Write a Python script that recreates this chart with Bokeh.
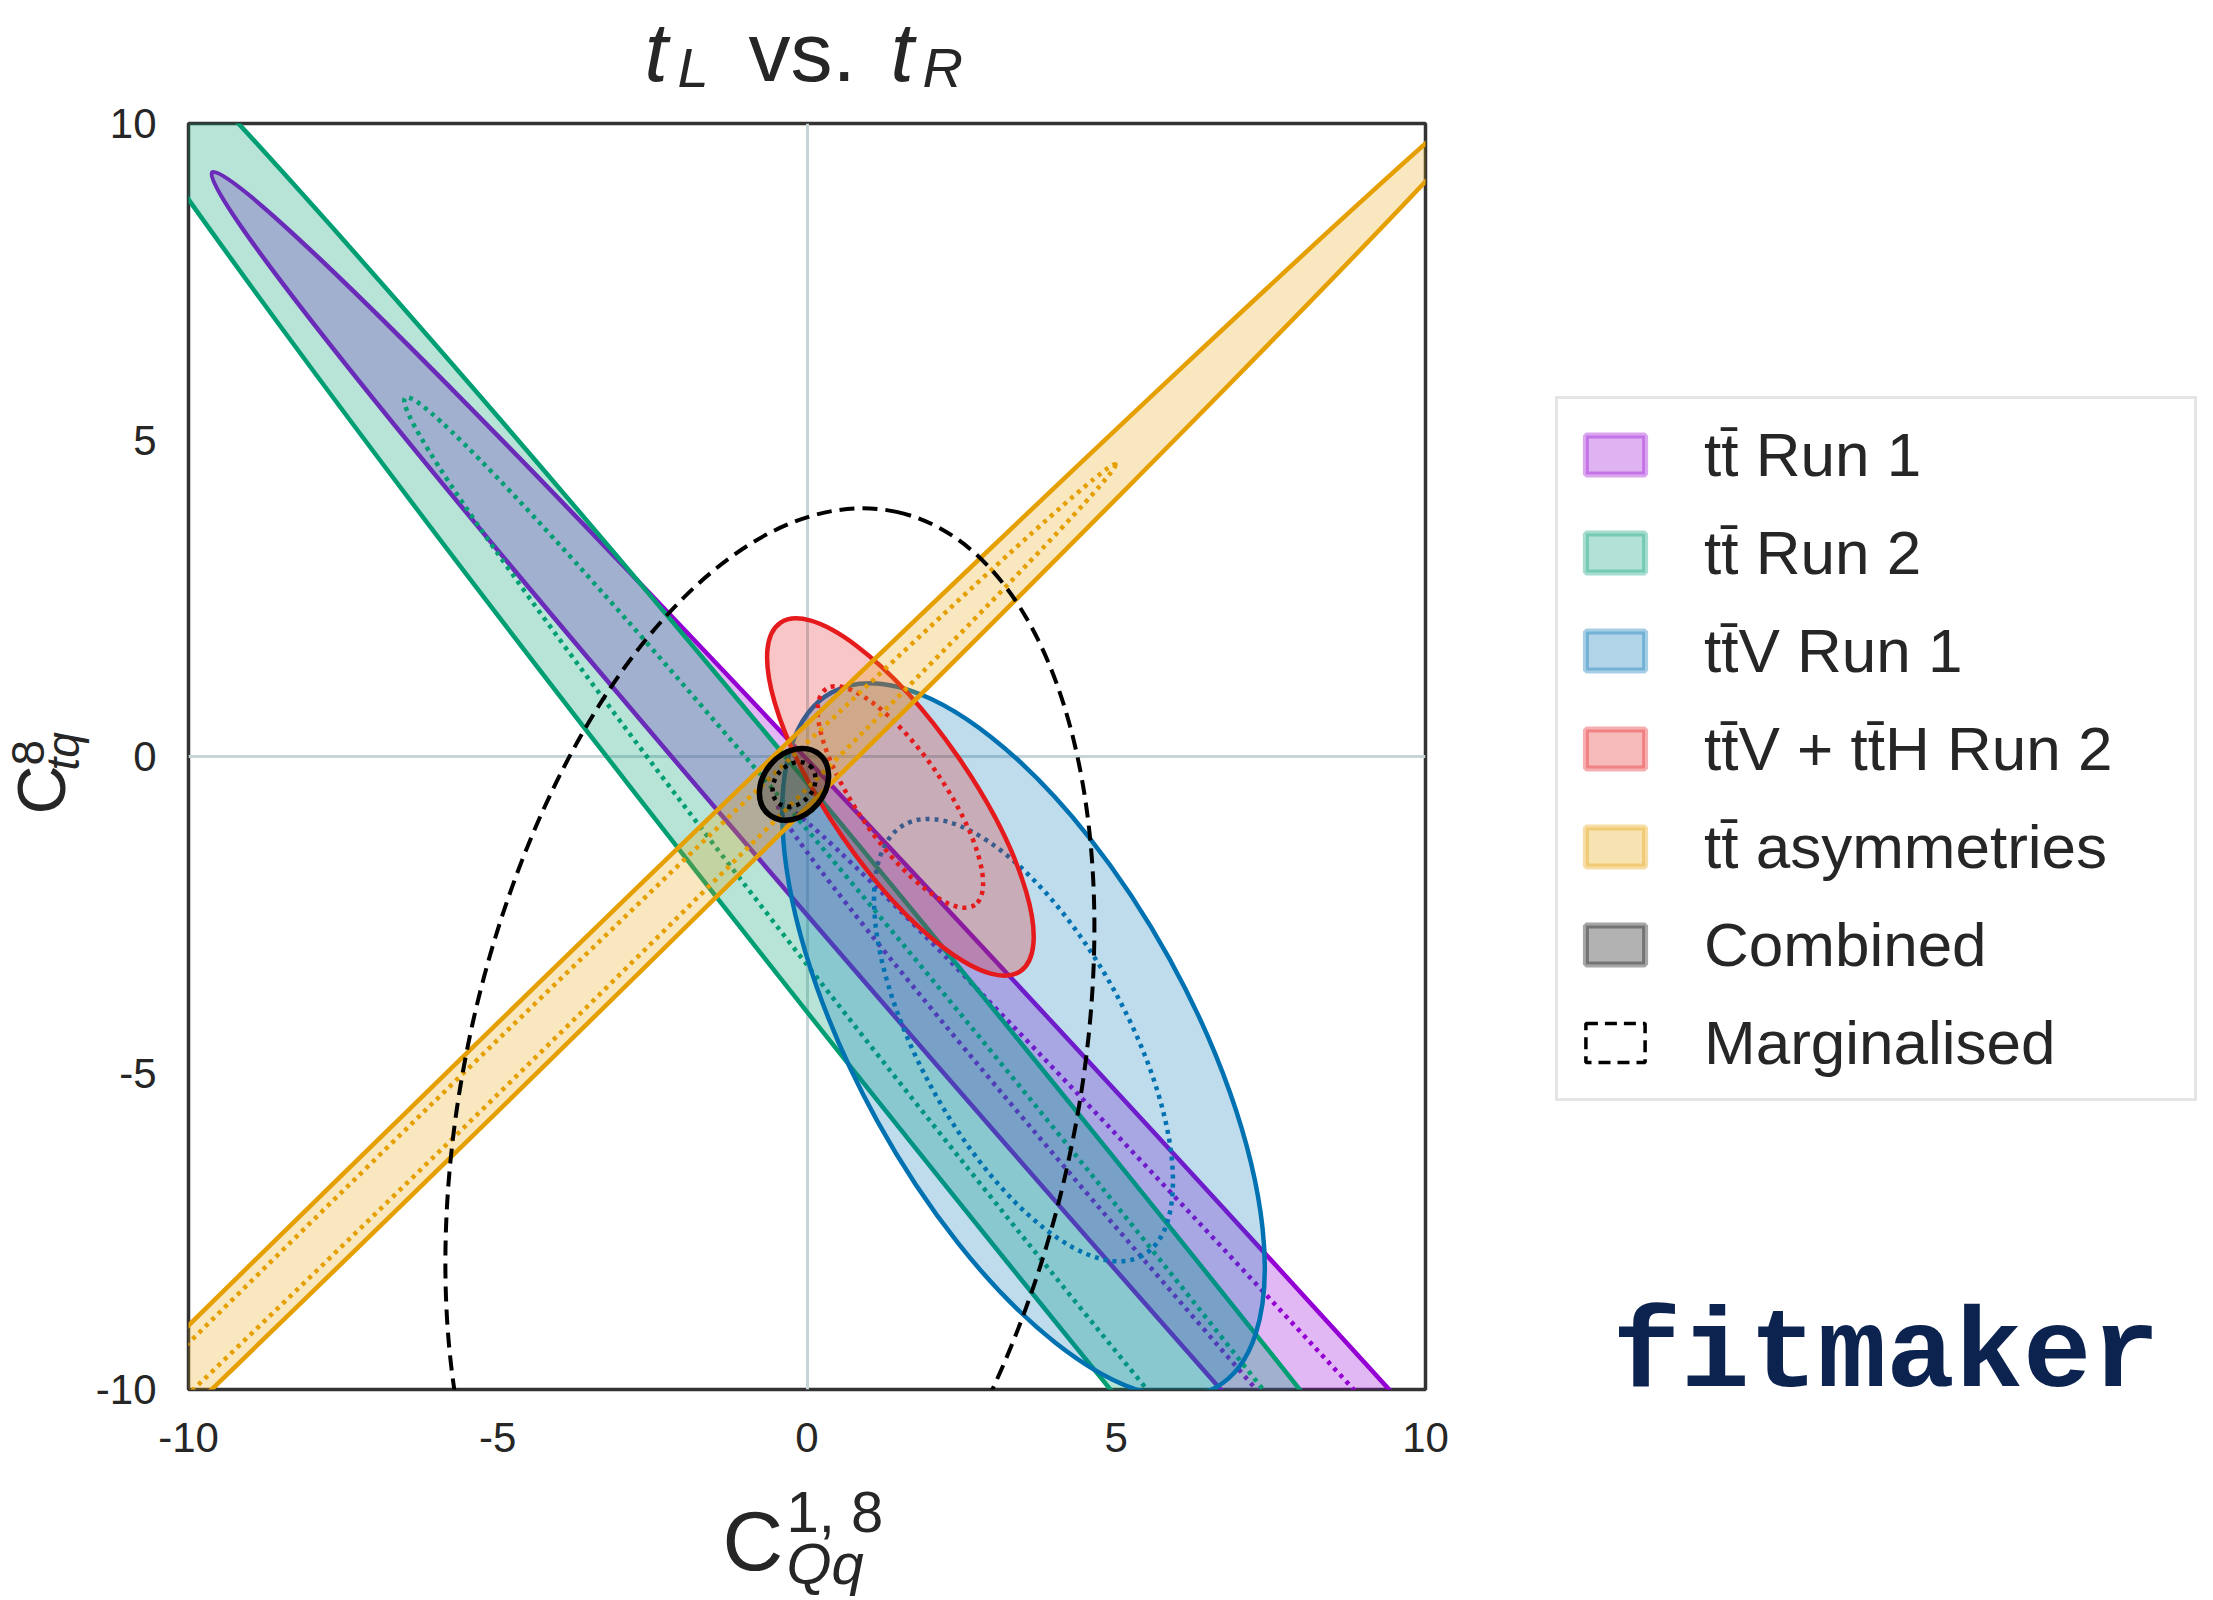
import math
from bokeh.plotting import figure
from bokeh.layouts import column, row
from bokeh.models import Label, Legend, LegendItem, FixedTicker, Range1d, ColumnDataSource
from bokeh.embed import file_html
from bokeh.resources import INLINE

# ---------------- data ----------------
series = ["tt\u0304 Run 1", "tt\u0304 Run 2", "tt\u0304V Run 1",
          "tt\u0304V + tt\u0304H Run 2", "tt\u0304 asymmetries", "Combined"]
colors = ["#9400d3", "#009e73", "#0072b2", "#e41a1c", "#e69f00", "#000000"]

# 95% contours (ellipses): centre, full width / height, rotation (deg)
center_x = [14.46, 4.18, 3.50, 1.51, -6.00, -0.21]
center_y = [-16.99, -7.26, -4.48, -0.64, -5.86, -0.44]
width95 = [72.1, 53.9, 12.84, 6.84, 49.5, 1.27]
height95 = [2.05, 2.35, 5.28, 2.22, 1.00, 0.97]
angle_deg = [-48.1, -51.1, -61.1, -55.4, 44.3, 49.4]

# 68% contours (dotted)
width68 = [44.7, 34.0, 7.96, 4.24, 30.7, 0.79]
height68 = [1.27, 1.46, 3.27, 1.38, 0.62, 0.60]

# marginalised contour (dashed)
marg_x = [-0.60]
marg_y = [-5.35]
marg_w = [19.3]
marg_h = [9.66]
marg_angle = [77.75]
marg_label = "Marginalised"

xticks = [-10, -5, 0, 5, 10]
yticks = [-10, -5, 0, 5, 10]
tick_labels = ["-10", "-5", "0", "5", "10"]

fill_alpha = [0.28, 0.28, 0.25, 0.25, 0.25, 0.25]

TXT = "#262626"
NAN = float("nan")

# ---------------- main plot ----------------
p = figure(frame_width=1237, frame_height=1266,
           x_range=Range1d(-10, 10), y_range=Range1d(-10, 10),
           output_backend="svg", toolbar_location=None,
           min_border_left=98, min_border_top=25,
           min_border_bottom=80, min_border_right=30,
           background_fill_color="white", border_fill_color="white",
           outline_line_color="#333333", outline_line_width=3.5)

for ax, ticks, so in ((p.xaxis, xticks, 33), (p.yaxis, yticks, 32)):
    ax.ticker = FixedTicker(ticks=ticks)
    ax.major_label_overrides = {t: s for t, s in zip(ticks, tick_labels)}
    ax.major_tick_line_color = None
    ax.minor_tick_line_color = None
    ax.axis_line_color = None
    ax.major_tick_out = 0
    ax.major_tick_in = 0
    ax.major_label_text_font = "Liberation Sans"
    ax.major_label_text_font_size = "42px"
    ax.major_label_text_color = TXT
    ax.major_label_standoff = so

p.xgrid.ticker = FixedTicker(ticks=[0])
p.ygrid.ticker = FixedTicker(ticks=[0])
p.grid.grid_line_color = "#c6d5d7"
p.grid.grid_line_width = 3

for i in range(len(series)):
    src = ColumnDataSource(dict(x=[center_x[i]], y=[center_y[i]],
                                w=[width95[i]], h=[height95[i]],
                                w68=[width68[i]], h68=[height68[i]],
                                a=[angle_deg[i]]))
    p.ellipse(x="x", y="y", width="w", height="h", angle="a", angle_units="deg",
              source=src, fill_color=colors[i], fill_alpha=fill_alpha[i],
              line_color=colors[i], line_width=5.5 if i == 5 else 4.5)
    p.ellipse(x="x", y="y", width="w68", height="h68", angle="a", angle_units="deg",
              source=src, fill_color=None, line_color=colors[i],
              line_width=4.5, line_dash="4 5")

msrc = ColumnDataSource(dict(x=marg_x, y=marg_y, w=marg_w, h=marg_h, a=marg_angle))
p.ellipse(x="x", y="y", width="w", height="h", angle="a", angle_units="deg",
          source=msrc, fill_color=None, line_color="black", line_width=4,
          line_dash="15 8")


# ---------------- text / legend panels ----------------
def strip(w, h):
    f = figure(width=w, height=h, x_range=Range1d(0, 1), y_range=Range1d(0, 1),
               output_backend="svg", toolbar_location=None, min_border=0,
               x_axis_location=None, y_axis_location=None,
               outline_line_color=None, background_fill_color="white",
               border_fill_color="white")
    f.grid.visible = False
    return f


def lab(f, x, y, text, size, style="normal", angle=0.0, font="Liberation Sans", color=TXT):
    f.add_layout(Label(x=x, y=y, x_units="screen", y_units="screen", text=text,
                       text_font=font, text_font_size=size, text_font_style=style,
                       text_color=color, text_align="left", text_baseline="alphabetic",
                       angle=angle))


W_TOTAL = 2210
top = strip(W_TOTAL, 98)
left = strip(90, 1371)
right = strip(755, 1371)
bottom = strip(W_TOTAL, 129)

# title  t_L vs. t_R
lab(top, 644, 47, "t", "84px", "italic")
lab(top, 677, 31, "L", "56px", "italic")
lab(top, 748, 47, "vs.", "84px")
lab(top, 890, 47, "t", "84px", "italic")
lab(top, 922, 31, "R", "56px", "italic")

# x label  C^{1,8}_{Qq}
lab(bottom, 722, 58, "C", "84px")
lab(bottom, 786, 87, "1, 8", "58px")
lab(bottom, 786, 35, "Qq", "58px", "italic")

# y label  C^{8}_{tq}
lab(left, 40, 655, "C", "68px", angle=math.pi / 2)
lab(left, 27, 704, "8", "46px", angle=math.pi / 2)
lab(left, 62, 699, "tq", "46px", "italic", angle=math.pi / 2)

# legend (proxy swatches carry no data values)
items = []
for i in range(len(series)):
    r = right.quad(left=[NAN], right=[NAN], top=[NAN], bottom=[NAN], fill_color=colors[i],
                   fill_alpha=0.3, line_color=colors[i], line_alpha=0.35, line_width=6)
    items.append(LegendItem(label=series[i], renderers=[r]))
rm = right.quad(left=[NAN], right=[NAN], top=[NAN], bottom=[NAN], fill_color=None,
                line_color="black", line_width=3.5, line_dash="12 7")
items.append(LegendItem(label=marg_label, renderers=[rm]))

legend = Legend(items=items, location=(100, 368),
                label_text_font="Liberation Sans", label_text_font_size="62px",
                label_text_color=TXT, glyph_width=74, glyph_height=49,
                label_standoff=52, padding=20, spacing=27, margin=0,
                label_height=69, label_width=470,
                border_line_color="#cccccc", border_line_width=3,
                background_fill_color="white", background_fill_alpha=1.0)
right.add_layout(legend)

# fitmaker tag
lab(right, 157, 114, "fitmaker", "114px", "bold", font="Liberation Mono", color="#0c2350")

layout = column(top, row(column(left), p, column(right)), bottom)
open("out.html", "w").write(file_html(layout, INLINE))
